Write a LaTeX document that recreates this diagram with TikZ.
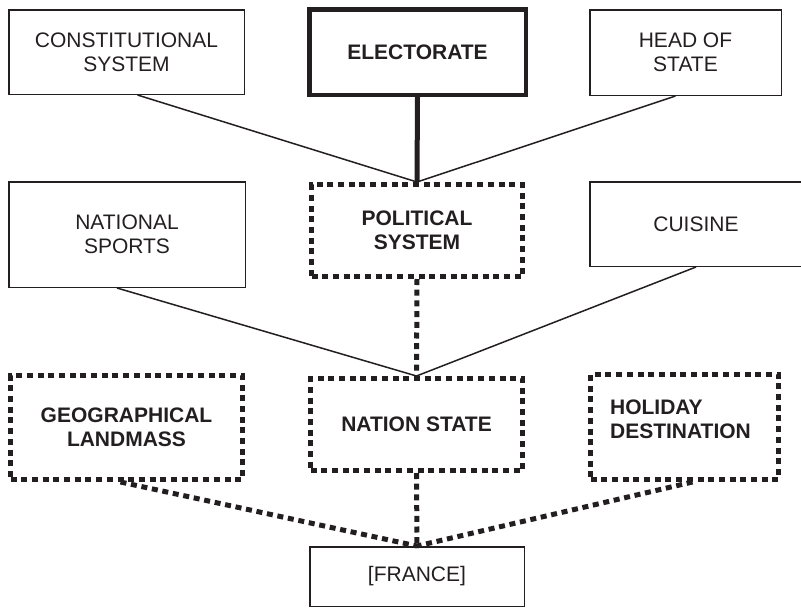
\documentclass[tikz,border=0pt]{standalone}
\usepackage{fontspec}
\setmainfont{Liberation Sans}
\definecolor{ink}{RGB}{35,31,32}
\begin{document}
\begin{tikzpicture}[x=1pt,y=-1pt,
  every node/.style={font=\fontsize{21}{24}\selectfont, text=ink, align=center, inner sep=0pt},
  plainbox/.style={draw=ink, line width=1.5pt, rectangle},
  heavybox/.style={draw=ink, line width=4.5pt, rectangle, font=\fontsize{21}{24}\selectfont\bfseries},
  dotbox/.style={draw=ink, line width=5pt, dash pattern=on 6pt off 4.7pt, rectangle, font=\fontsize{21}{24}\selectfont\bfseries},
  boldtext/.style={font=\fontsize{21}{24}\selectfont\bfseries},
  thinlink/.style={draw=ink, line width=1.5pt},
  thicklink/.style={draw=ink, line width=5pt},
  dotlink/.style={draw=ink, line width=5pt, dash pattern=on 6pt off 4.7pt},
]
\useasboundingbox (0,0) rectangle (801,608);
\clip (0,0) rectangle (801,608);

% top row
\node[plainbox, minimum width=235.5pt, minimum height=84.5pt] (const) at (126.5,52) {CONSTITUTIONAL\\SYSTEM};
\node[heavybox, minimum width=216.5pt, minimum height=85.5pt] (elect) at (417.5,52) {ELECTORATE};
\node[plainbox, minimum width=191.5pt, minimum height=85.5pt] (head) at (685.5,52.5) {HEAD OF\\STATE};

% middle row
\node[plainbox, minimum width=236.5pt, minimum height=105.5pt] (natsports) at (127,234.5) {NATIONAL\\SPORTS};
\node[dotbox, minimum width=211pt, minimum height=92pt] (political) at (417,230.5) {POLITICAL\\SYSTEM};
\node[plainbox, minimum width=212.5pt, minimum height=84.5pt] (cuisine) at (696,224) {CUISINE};

% lower row
\node[dotbox, minimum width=232pt, minimum height=104pt] (geo) at (126.5,427.5) {GEOGRAPHICAL\\LANDMASS};
\node[dotbox, minimum width=212pt, minimum height=92pt] (nation) at (416.5,424.5) {NATION STATE};
\node[dotbox, minimum width=188pt, minimum height=105pt] (holiday) at (684.5,427) {};
\node[boldtext, align=left] (holidaytxt) at (680.5,419) {HOLIDAY\\DESTINATION};

% bottom
\node[plainbox, minimum width=214.5pt, minimum height=59.5pt] (france) at (417,576.5) {[FRANCE]};

% connectors
\draw[thinlink] ([xshift=11pt]const.south) -- (political.north);
\draw[thicklink] (elect.south) -- (political.north);
\draw[thinlink] ([xshift=-10pt]head.south) -- (political.north);
\draw[thinlink] ([xshift=-10pt]natsports.south) -- (nation.north);
\draw[thinlink] (cuisine.south) -- (nation.north);
\draw[dotlink] (political.south) -- (nation.north);
\draw[dotlink] ([xshift=-6pt]geo.south) -- (france.north);
\draw[dotlink] ([xshift=8pt]holiday.south) -- (france.north);
\draw[dotlink] (nation.south) -- (france.north);
\end{tikzpicture}
\end{document}
